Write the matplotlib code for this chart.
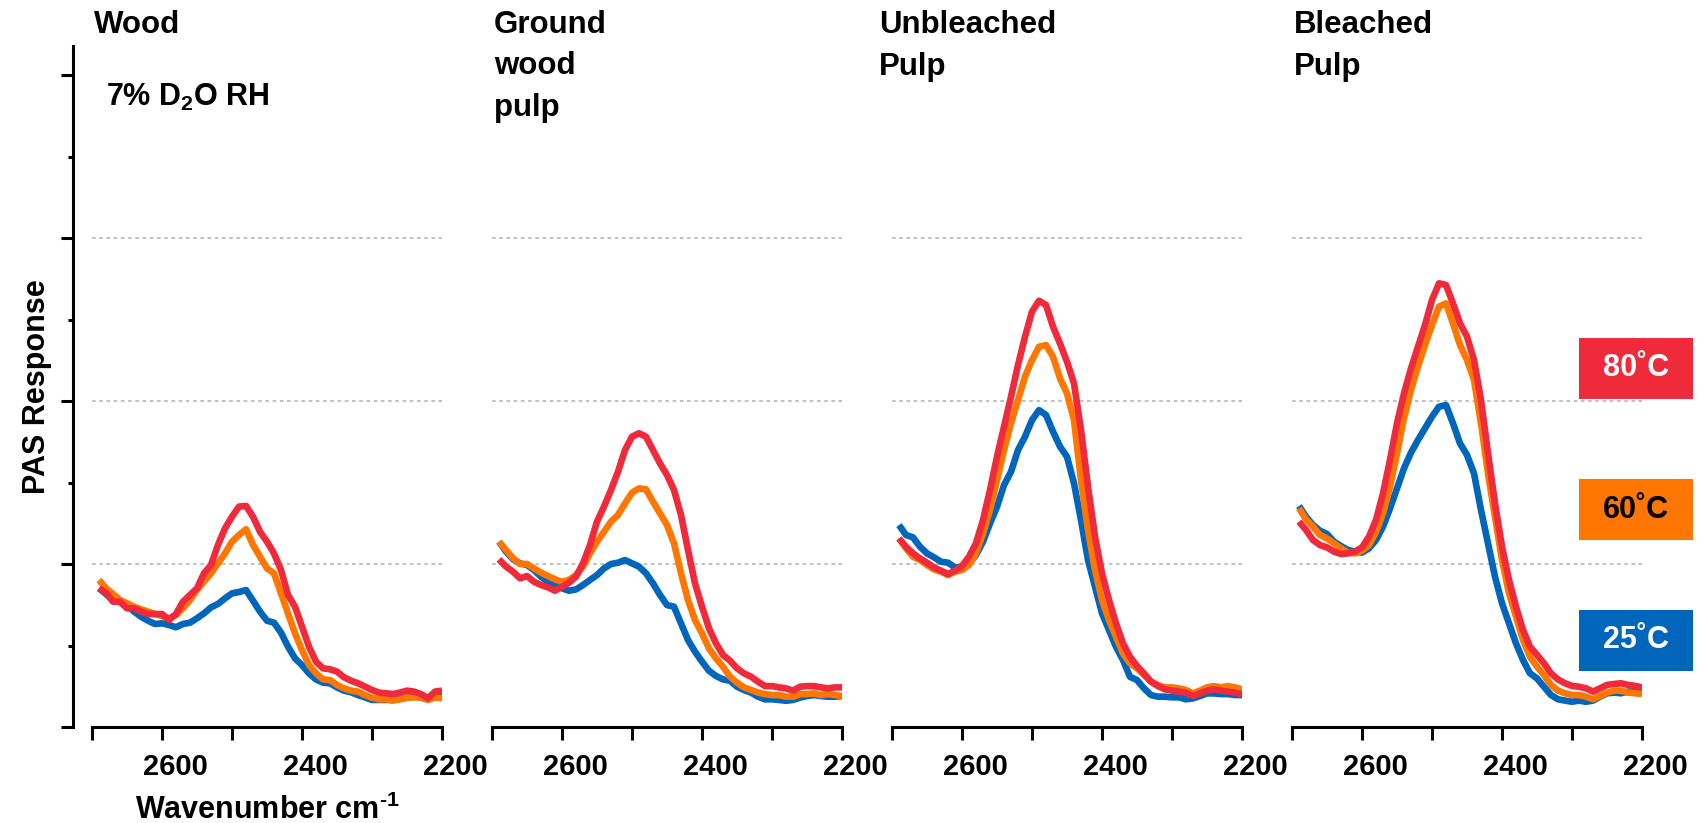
import numpy as np
import matplotlib
matplotlib.use("Agg")
import matplotlib.pyplot as plt
from matplotlib.patches import Rectangle
from matplotlib.ticker import FixedLocator
import matplotlib.transforms as mtransforms

plt.rcParams['font.family'] = ['Liberation Sans', 'DejaVu Sans']
plt.rcParams['font.weight'] = 'bold'
plt.rcParams['mathtext.fontset'] = 'custom'
plt.rcParams['mathtext.rm'] = 'Liberation Sans:bold'
plt.rcParams['mathtext.bf'] = 'Liberation Sans:bold'
plt.rcParams['mathtext.it'] = 'Liberation Sans:bold'

# ---------------- data ----------------
wavenumber = [2690, 2680, 2670, 2660, 2650, 2640, 2630, 2620, 2610, 2600,
              2590, 2580, 2570, 2560, 2550, 2540, 2530, 2520, 2510, 2500,
              2490, 2480, 2470, 2460, 2450, 2440, 2430, 2420, 2410, 2400,
              2390, 2380, 2370, 2360, 2350, 2340, 2330, 2320, 2310, 2300,
              2290, 2280, 2270, 2260, 2250, 2240, 2230, 2220, 2210, 2200]

panel_titles = ["Wood", "Ground\nwood\npulp", "Unbleached\nPulp", "Bleached\nPulp"]
temperatures = ["25˚C", "60˚C", "80˚C"]

wood_25 = [0.851, 0.816, 0.779, 0.765, 0.749, 0.708, 0.677, 0.652, 0.632, 0.636,
           0.626, 0.612, 0.632, 0.640, 0.667, 0.697, 0.734, 0.755, 0.789, 0.820,
           0.828, 0.840, 0.775, 0.708, 0.652, 0.640, 0.579, 0.493, 0.421, 0.380,
           0.329, 0.292, 0.272, 0.268, 0.243, 0.223, 0.213, 0.196, 0.182, 0.166,
           0.166, 0.166, 0.166, 0.172, 0.180, 0.186, 0.180, 0.170, 0.182, 0.182]
wood_60 = [0.902, 0.851, 0.816, 0.779, 0.759, 0.738, 0.722, 0.708, 0.693, 0.681,
           0.667, 0.687, 0.728, 0.779, 0.840, 0.892, 0.943, 1.004, 1.065, 1.137,
           1.178, 1.213, 1.117, 1.045, 0.973, 0.943, 0.820, 0.697, 0.575, 0.472,
           0.380, 0.329, 0.292, 0.288, 0.258, 0.237, 0.223, 0.217, 0.196, 0.180,
           0.170, 0.170, 0.162, 0.170, 0.180, 0.182, 0.182, 0.166, 0.182, 0.176]
wood_80 = [0.851, 0.824, 0.769, 0.769, 0.728, 0.728, 0.708, 0.693, 0.693, 0.693,
           0.657, 0.693, 0.769, 0.810, 0.851, 0.943, 0.994, 1.117, 1.219, 1.290,
           1.352, 1.356, 1.290, 1.198, 1.137, 1.065, 0.963, 0.810, 0.738, 0.616,
           0.493, 0.401, 0.360, 0.354, 0.340, 0.305, 0.284, 0.268, 0.248, 0.227,
           0.211, 0.207, 0.202, 0.211, 0.223, 0.217, 0.202, 0.176, 0.217, 0.223]

gwp_25 = [1.137, 1.076, 1.029, 1.004, 0.994, 0.963, 0.922, 0.891, 0.871, 0.851,
          0.836, 0.844, 0.871, 0.902, 0.932, 0.973, 1.000, 1.008, 1.024, 1.004,
          0.984, 0.943, 0.881, 0.810, 0.748, 0.738, 0.636, 0.534, 0.462, 0.401,
          0.345, 0.313, 0.292, 0.284, 0.247, 0.227, 0.211, 0.186, 0.170, 0.170,
          0.166, 0.161, 0.166, 0.180, 0.190, 0.196, 0.190, 0.186, 0.186, 0.190]
gwp_60 = [1.137, 1.086, 1.035, 1.000, 1.000, 0.973, 0.947, 0.926, 0.906, 0.891,
          0.902, 0.932, 0.984, 1.065, 1.137, 1.198, 1.260, 1.301, 1.372, 1.437,
          1.464, 1.458, 1.382, 1.311, 1.239, 1.127, 0.943, 0.779, 0.656, 0.575,
          0.482, 0.421, 0.370, 0.309, 0.272, 0.243, 0.227, 0.211, 0.202, 0.196,
          0.196, 0.186, 0.186, 0.202, 0.202, 0.206, 0.196, 0.202, 0.196, 0.190]
gwp_80 = [1.029, 0.984, 0.953, 0.912, 0.926, 0.891, 0.871, 0.857, 0.836, 0.861,
          0.885, 0.922, 1.004, 1.117, 1.260, 1.352, 1.454, 1.566, 1.699, 1.781,
          1.802, 1.781, 1.699, 1.617, 1.546, 1.454, 1.301, 1.086, 0.881, 0.738,
          0.605, 0.513, 0.442, 0.407, 0.360, 0.329, 0.309, 0.278, 0.251, 0.251,
          0.243, 0.237, 0.223, 0.247, 0.251, 0.251, 0.243, 0.237, 0.243, 0.243]

unb_25 = [1.239, 1.178, 1.163, 1.106, 1.065, 1.041, 1.014, 1.008, 0.979, 0.979,
          1.004, 1.055, 1.137, 1.249, 1.351, 1.484, 1.566, 1.699, 1.781, 1.883,
          1.944, 1.914, 1.812, 1.720, 1.658, 1.495, 1.270, 1.024, 0.861, 0.697,
          0.595, 0.492, 0.411, 0.308, 0.288, 0.237, 0.196, 0.186, 0.186, 0.182,
          0.182, 0.170, 0.176, 0.190, 0.206, 0.206, 0.202, 0.202, 0.196, 0.196]
unb_60 = [1.157, 1.096, 1.045, 1.024, 0.994, 0.967, 0.953, 0.932, 0.953, 0.963,
          0.994, 1.065, 1.188, 1.331, 1.515, 1.699, 1.863, 2.006, 2.149, 2.251,
          2.333, 2.343, 2.272, 2.139, 2.047, 1.883, 1.515, 1.208, 0.963, 0.779,
          0.656, 0.554, 0.452, 0.390, 0.360, 0.319, 0.278, 0.257, 0.243, 0.243,
          0.237, 0.227, 0.206, 0.223, 0.243, 0.251, 0.243, 0.251, 0.243, 0.231]
unb_80 = [1.157, 1.106, 1.065, 1.034, 1.008, 0.979, 0.959, 0.938, 0.959, 0.988,
          1.045, 1.127, 1.270, 1.454, 1.658, 1.842, 2.026, 2.221, 2.394, 2.548,
          2.615, 2.589, 2.456, 2.353, 2.241, 2.108, 1.822, 1.474, 1.167, 0.942,
          0.779, 0.636, 0.513, 0.431, 0.374, 0.329, 0.278, 0.251, 0.231, 0.223,
          0.217, 0.210, 0.190, 0.206, 0.223, 0.231, 0.223, 0.217, 0.210, 0.202]

bl_25 = [1.356, 1.290, 1.239, 1.204, 1.184, 1.137, 1.110, 1.086, 1.076, 1.070,
         1.096, 1.147, 1.229, 1.341, 1.464, 1.587, 1.683, 1.761, 1.832, 1.904,
         1.965, 1.975, 1.863, 1.740, 1.669, 1.556, 1.331, 1.127, 0.922, 0.759,
         0.636, 0.513, 0.411, 0.329, 0.298, 0.247, 0.196, 0.170, 0.162, 0.155,
         0.162, 0.155, 0.162, 0.186, 0.207, 0.211, 0.207, 0.217, 0.217, 0.217]
bl_60 = [1.342, 1.274, 1.229, 1.178, 1.157, 1.127, 1.096, 1.070, 1.065, 1.082,
         1.116, 1.198, 1.311, 1.474, 1.679, 1.894, 2.067, 2.211, 2.344, 2.466,
         2.579, 2.599, 2.476, 2.344, 2.252, 2.129, 1.863, 1.556, 1.290, 1.025,
         0.820, 0.677, 0.534, 0.431, 0.370, 0.319, 0.258, 0.223, 0.207, 0.196,
         0.196, 0.186, 0.170, 0.190, 0.211, 0.223, 0.223, 0.211, 0.207, 0.203]
bl_80 = [1.260, 1.209, 1.147, 1.116, 1.102, 1.076, 1.061, 1.065, 1.076, 1.102,
         1.168, 1.270, 1.433, 1.638, 1.863, 2.047, 2.200, 2.333, 2.466, 2.620,
         2.722, 2.712, 2.599, 2.476, 2.395, 2.252, 2.006, 1.679, 1.372, 1.106,
         0.902, 0.738, 0.595, 0.493, 0.442, 0.391, 0.329, 0.292, 0.268, 0.252,
         0.247, 0.237, 0.217, 0.237, 0.258, 0.264, 0.268, 0.258, 0.252, 0.243]

panels = [(wood_25, wood_60, wood_80), (gwp_25, gwp_60, gwp_80),
          (unb_25, unb_60, unb_80), (bl_25, bl_60, bl_80)]

x_major = [2600, 2400, 2200]
x_minor = [2700, 2500, 2300]
y_major = [0, 1, 2, 3, 4]
y_minor = [0.5, 1.5, 2.5, 3.5]
grid_levels = [1, 2, 3]

colors = ["#0066BB", "#FF7700", "#EE2A3B"]
text_colors = ["white", "black", "white"]

# ---------------- figure ----------------
W, H = 1707, 823
fig = plt.figure(figsize=(W / 100, H / 100), dpi=100)

lefts_px = [92, 492, 892, 1292]
title_dx_px = [2, 2, -13, 2]
ax_w = 350
ax_bottom_px = 727
ax_top_px = 46

lw_spine = 2.2
label_shift = mtransforms.ScaledTranslation(13 / 100, 0, fig.dpi_scale_trans)

axes = []
for i, (L, title, series) in enumerate(zip(lefts_px, panel_titles, panels)):
    ax = fig.add_axes([L / W, (H - ax_bottom_px) / H, ax_w / W,
                       (ax_bottom_px - ax_top_px) / H])
    axes.append(ax)
    ax.hlines(grid_levels, 2700, 2200, colors='#BBBBBB',
              linestyles=[(0, (2, 2))], linewidth=1.3, zorder=1)
    for vals, c in zip(series, colors):
        ax.plot(wavenumber, vals, color=c, lw=4.8, solid_capstyle='butt',
                solid_joinstyle='round', zorder=3)
    ax.set_xlim(2700, 2200)
    ax.set_ylim(0, 4.178)

    for s in ['top', 'right']:
        ax.spines[s].set_visible(False)
    ax.spines['bottom'].set_linewidth(lw_spine)

    ax.xaxis.set_major_locator(FixedLocator(x_major))
    ax.xaxis.set_minor_locator(FixedLocator(x_minor))
    ax.set_xticklabels([str(v) for v in x_major])
    ax.tick_params(axis='x', which='both', direction='out', length=9.4,
                   width=lw_spine, labelsize=21, pad=9)
    for lab in ax.get_xticklabels():
        lab.set_fontweight('bold')
        lab.set_transform(lab.get_transform() + label_shift)

    ax.yaxis.set_major_locator(FixedLocator(y_major))
    ax.yaxis.set_minor_locator(FixedLocator(y_minor))
    ax.set_yticklabels([])

    if i == 0:
        ax.spines['left'].set_position(('outward', 13.7))
        ax.spines['left'].set_linewidth(lw_spine)
        ax.tick_params(axis='y', which='major', direction='out', length=8.6,
                       width=lw_spine)
        ax.tick_params(axis='y', which='minor', direction='out', length=3.6,
                       width=lw_spine)
        ax.set_ylabel("PAS Response", fontsize=22, fontweight='bold', labelpad=3)
        ax.set_xlabel(r"Wavenumber cm$^{\text{-1}}$", fontsize=22,
                      fontweight='bold', labelpad=10)
    else:
        ax.spines['left'].set_visible(False)
        ax.tick_params(axis='y', which='both', length=0)

    fig.text((L + title_dx_px[i]) / W, 1 - 10 / H, title, fontsize=22.5,
             fontweight='bold', va='top', ha='left', linespacing=1.5)

axes[0].text(0.04, 0.948, r"7% D$_{\mathbf{2}}$O RH", transform=axes[0].transAxes,
             fontsize=22, fontweight='bold', va='top', ha='left')

# temperature legend boxes
box_tops = [610, 479, 338]
for lab, c, tc, top in zip(temperatures, colors, text_colors, box_tops):
    x0, w, h = 1579, 114, 61
    fig.patches.append(Rectangle((x0 / W, (H - top - h) / H), w / W, h / H,
                                 transform=fig.transFigure, facecolor=c,
                                 edgecolor='none'))
    fig.text((x0 + w / 2) / W, (H - top - h / 2) / H, lab, color=tc,
             fontsize=22, fontweight='bold', ha='center', va='center')

fig.savefig("out.png", dpi=100)
